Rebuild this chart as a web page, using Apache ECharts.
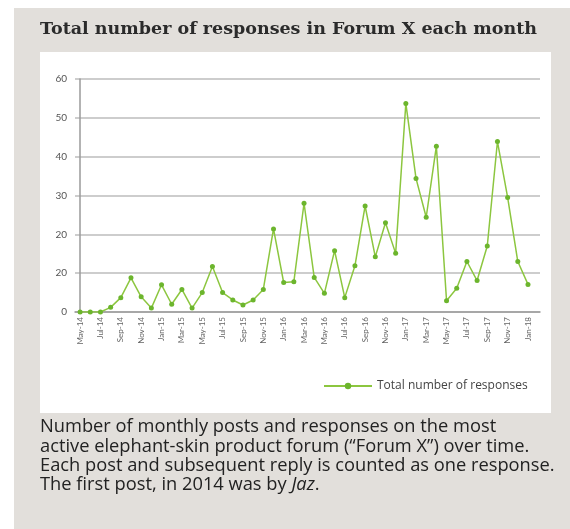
<!DOCTYPE html>
<html><head><meta charset="utf-8">
<script src="https://cdn.jsdelivr.net/npm/echarts@6/dist/echarts.min.js"></script>
<style>html,body{margin:0;padding:0;background:#fff}#c{width:570px;height:529px}</style>
</head><body><div id="c"></div>
<script>
const months = ["May-14","Jun-14","Jul-14","Aug-14","Sep-14","Oct-14","Nov-14","Dec-14",
"Jan-15","Feb-15","Mar-15","Apr-15","May-15","Jun-15","Jul-15","Aug-15","Sep-15","Oct-15","Nov-15","Dec-15",
"Jan-16","Feb-16","Mar-16","Apr-16","May-16","Jun-16","Jul-16","Aug-16","Sep-16","Oct-16","Nov-16","Dec-16",
"Jan-17","Feb-17","Mar-17","Apr-17","May-17","Jun-17","Jul-17","Aug-17","Sep-17","Oct-17","Nov-17","Dec-17",
"Jan-18"];
const responses = [0,0,0,1.2,3.7,8.8,3.9,1.0,
7.0,2.0,5.8,1.0,5.0,11.7,5.0,3.1,1.8,3.1,5.8,21.4,
7.6,7.8,28.0,8.9,4.8,15.8,3.7,11.9,27.3,14.2,23.0,15.1,
53.7,34.4,24.4,42.7,2.9,6.1,13.0,8.1,17.0,43.9,29.5,13.0,
7.1];
const yTickLabels = ["0","20","20","30","40","50","60"];
const seriesName = "Total number of responses";
const titleText = "Total number of responses in Forum X each month";
const captionLines = [
 "Number of monthly posts and responses on the most",
 "active elephant-skin product forum (\u201cForum X\u201d) over time.",
 "Each post and subsequent reply is counted as one response.",
 "The first post, in 2014 was by {i|Jaz}."
];

const chart = echarts.init(document.getElementById('c'));
const labelIdx = months.map((m,i)=>i).filter(i=>i%2===0);
chart.setOption({
  animation:false,
  backgroundColor:'#ffffff',
  graphic:[
    {type:'rect', z:-10, shape:{x:14,y:8,width:556,height:521}, style:{fill:'#e2dfdb'}},
    {type:'rect', z:-9, shape:{x:40,y:52,width:511,height:361}, style:{fill:'#ffffff'}},
    ...captionLines.map((t,k)=>({type:'text', left:40, top:418+k*19.3, style:{
      text:t, fill:'#222222', font:'18.3px "Open Sans"',
      rich:{i:{fontStyle:'italic', fontSize:18.3, fontFamily:'Open Sans', fill:'#222222'}}
    }}))
  ],
  title:{text:titleText, left:40, top:20, padding:0,
    textStyle:{fontFamily:'DejaVu Serif', fontWeight:'bold', fontSize:17.5, color:'#2b2b2b'}},
  legend:{left:318, top:375, itemWidth:48, itemHeight:8, itemGap:5,
    textStyle:{fontFamily:'Open Sans', fontSize:12, color:'#444'},
    data:[seriesName]},
  grid:{left:75, top:79, width:465, height:233},
  xAxis:{type:'value', min:-0.5, max:45.18,
    axisLine:{show:true, onZero:false, lineStyle:{color:'#9a9a9a', width:1.5}},
    axisTick:{show:false},
    splitLine:{show:false},
    axisLabel:{customValues:labelIdx, rotate:90, fontSize:8, color:'#666', fontFamily:'Lato', margin:5,
      formatter:v=>months[Math.round(v)]||''}
  },
  yAxis:{type:'value', min:0, max:60, interval:10,
    axisLine:{show:true, lineStyle:{color:'#9a9a9a', width:1.5}},
    axisTick:{show:false},
    splitLine:{lineStyle:{color:'#bdbdbd', width:1.5}},
    axisLabel:{fontSize:10, color:'#555', fontFamily:'Lato', margin:8,
      formatter:v=>yTickLabels[Math.round(v/10)]}
  },
  series:[{name:seriesName, type:'line', data:responses.map((v,i)=>[i,v]),
    symbol:'circle', symbolSize:5,
    lineStyle:{color:'#8cc63f', width:1.5},
    itemStyle:{color:'#6cb52d'}
  }]
});
</script></body></html>
